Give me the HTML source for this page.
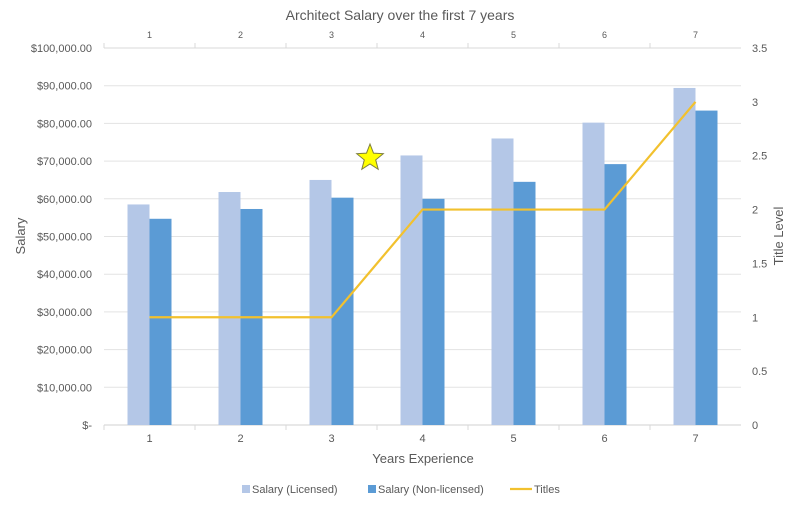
<!DOCTYPE html>
<html><head><meta charset="utf-8"><style>
body{margin:0;background:#fff;font-family:"Liberation Sans",sans-serif}
svg text{font-family:"Liberation Sans",sans-serif;fill:#595959}
</style></head><body>
<svg id="c" width="800" height="506"></svg>
<script>
const categories=["1","2","3","4","5","6","7"];
const licensed=[58500,61800,65000,71500,76000,80200,89400];
const nonLicensed=[54700,57300,60300,60000,64500,69200,83400];
const titles=[1,1,1,2,2,2,3];
const leftTicks=[0,10000,20000,30000,40000,50000,60000,70000,80000,90000,100000];
const rightTicks=[0,0.5,1,1.5,2,2.5,3,3.5];
const NS="http://www.w3.org/2000/svg";
const svg=document.getElementById('c');
const L=104,R=741,T=48,B=425;
const bw=(R-L)/categories.length;
const yL=v=>B-(v/100000)*(B-T);
const yR=v=>B-(v/3.5)*(B-T);
const xC=i=>L+bw*(i+0.5);
function el(tag,attrs,txt){const e=document.createElementNS(NS,tag);for(const k in attrs)e.setAttribute(k,attrs[k]);if(txt!==undefined)e.textContent=txt;svg.appendChild(e);return e;}
function fmt(v){return v===0?"$-":"$"+v.toLocaleString('en-US',{minimumFractionDigits:2});}
leftTicks.forEach(v=>{
 const g=el('line',{x1:L,x2:R,y1:yL(v),y2:yL(v),stroke:v===0?'#d0d0d0':'#e3e3e3','stroke-width':1});
 
 
 const t=el('text',{x:92,y:yL(v)+4,'text-anchor':'end','font-size':11},fmt(v));
 
 
});
rightTicks.forEach(v=>{
 const t=el('text',{x:752,y:yR(v)+4,'font-size':11},String(v));
 
 
});
el('line',{x1:L,x2:R,y1:T,y2:T,stroke:'#d9d9d9'});
categories.forEach((c,i)=>{
 el('line',{x1:L+bw*i,x2:L+bw*i,y1:T,y2:T-5,stroke:'#d9d9d9'});
 el('line',{x1:L+bw*i,x2:L+bw*i,y1:B,y2:B+5,stroke:'#d9d9d9'});
 const t1=el('text',{x:xC(i),y:38,'text-anchor':'middle','font-size':9},c);
 
 
 const t2=el('text',{x:xC(i),y:442,'text-anchor':'middle','font-size':11},c);
 
 
 const b1=el('rect',{x:xC(i)-22,y:yL(licensed[i]),width:22,height:B-yL(licensed[i]),fill:'#b4c7e7'});
 
 
 const b2=el('rect',{x:xC(i),y:yL(nonLicensed[i]),width:22,height:B-yL(nonLicensed[i]),fill:'#5b9bd5'});
 
 
});
const pl=el('polyline',{points:titles.map((v,i)=>xC(i)+','+yR(v)).join(' '),fill:'none',stroke:'#f2c12e','stroke-width':2.2});


// star
const cx=370,cy=158,ro=14,ri=6;let pts=[];
for(let k=0;k<10;k++){const r=k%2?ri:ro;const a=-Math.PI/2+k*Math.PI/5;pts.push((cx+r*Math.cos(a)).toFixed(1)+','+(cy+r*Math.sin(a)).toFixed(1));}
const st=el('polygon',{points:pts.join(' '),fill:'#ffff00',stroke:'#7f7f3f','stroke-width':1});


const tt=el('text',{x:400,y:20,'text-anchor':'middle','font-size':14},'Architect Salary over the first 7 years');


const xt=el('text',{x:423,y:463,'text-anchor':'middle','font-size':13},'Years Experience');


const yt=el('text',{x:25,y:236,'text-anchor':'middle','font-size':13,transform:'rotate(-90 25 236)'},'Salary');


const rt=el('text',{x:783,y:236,'text-anchor':'middle','font-size':13,transform:'rotate(-90 783 236)'},'Title Level');


// legend
const lg=[['Salary (Licensed)','#b4c7e7',242,'r'],['Salary (Non-licensed)','#5b9bd5',368,'r'],['Titles','#f2c12e',510,'l']];
lg.forEach(([n,c,x,k])=>{
 if(k==='r'){const r=el('rect',{x:x,y:485,width:8,height:8,fill:c});}
 else{const l=el('line',{x1:x,x2:x+22,y1:489,y2:489,stroke:c,'stroke-width':2.2});}
 const t=el('text',{x:x+(k==='r'?10:24),y:493,'font-size':11},n);
 
 
});
</script>
</body></html>
